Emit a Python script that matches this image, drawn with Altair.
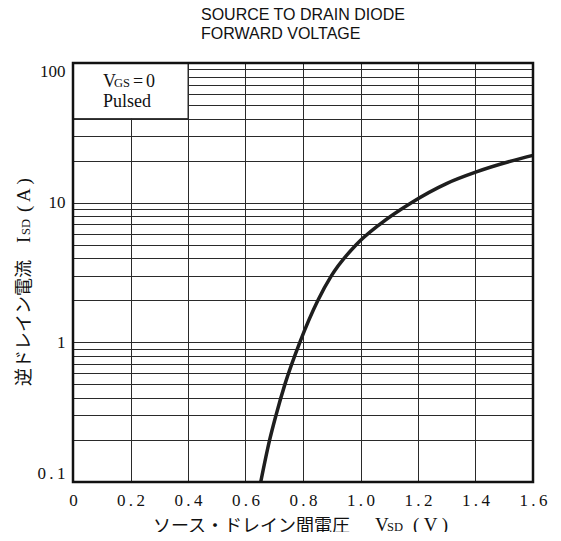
import altair as alt
import pandas as pd

# ---- data ----
vsd = [0.653, 0.684, 0.706, 0.737, 0.789, 0.852, 0.899, 0.985, 1.067, 1.177, 1.299, 1.403, 1.53, 1.6]
isd = [0.1, 0.2, 0.3, 0.5, 1, 2, 3, 5, 7, 10, 13.7, 16.6, 20, 21.8]
x_ticks = [0, 0.2, 0.4, 0.6, 0.8, 1.0, 1.2, 1.4, 1.6]
y_decades = [0.1, 1, 10, 100]
y_grid = [0.1, 0.2, 0.3, 0.4, 0.5, 0.6, 0.7, 0.8, 0.9,
          1, 2, 3, 4, 5, 6, 7, 8, 9,
          10, 20, 30, 40, 50, 60, 70, 80, 90, 100]
title_lines = ["SOURCE TO DRAIN DIODE", "FORWARD VOLTAGE"]
legend_x = [0.0, 0.4]
legend_y = [40, 100]

W, H = 460, 419
SERIF = "Liberation Serif"
CJK = "Noto Sans CJK JP"
SANS = "Liberation Sans"
TS = "\u2009"

xs = alt.Scale(domain=[0, 1.6], nice=False, zero=False)
ys = alt.Scale(type="log", domain=[0.1, 100], nice=False)

x_axis = alt.Axis(values=x_ticks, title=None, labelFlush=False, labelPadding=10,
                  labelExpr=f"datum.value == 0 ? '0' : replace(format(datum.value, '.1f'), '.', '{TS}.{TS}')")
y_axis = alt.Axis(values=y_grid, title=None, labelFlush=True, labelPadding=8,
                  labelExpr=("datum.value == 100 ? '100' : datum.value == 10 ? '10' : "
                             f"datum.value == 1 ? '1' : datum.value == 0.1 ? '0{TS}.{TS}1' : ''"))

box_df = pd.DataFrame({"x": [legend_x[0]], "x2": [legend_x[1]], "y": [legend_y[0]], "y2": [legend_y[1]]})
box = alt.Chart(box_df).mark_rect(fill="white", stroke="#2a2a2a", strokeWidth=1).encode(
    x=alt.X("x:Q", scale=xs, axis=x_axis), x2="x2",
    y=alt.Y("y:Q", scale=ys, axis=y_axis), y2="y2")

curve_df = pd.DataFrame({"x": vsd, "y": isd})
curve = alt.Chart(curve_df).mark_line(color="#1e1e1e", strokeWidth=3.5, interpolate="monotone").encode(
    x=alt.X("x:Q", scale=xs, axis=x_axis),
    y=alt.Y("y:Q", scale=ys, axis=y_axis))


def txt(s, x, y, size, font, angle=0, align="left"):
    kw = dict(text=s, font=font, fontSize=size, align=align, baseline="alphabetic", color="#111")
    if angle:
        kw["angle"] = angle
    return alt.Chart(pd.DataFrame({"t": [s]})).mark_text(**kw).encode(
        x=alt.value(x), y=alt.value(y))


texts = [
    txt(title_lines[0], 128, -43, 16, SANS),
    txt(title_lines[1], 128, -24, 16, SANS),
    # legend box text
    txt("V", 30, 24, 18, SERIF),
    txt("GS", 41, 24, 12.5, SERIF),
    txt("=", 60, 24, 18, SERIF),
    txt("0", 73, 24, 18, SERIF),
    txt("Pulsed", 30, 43.5, 18, SERIF),
    # x title
    txt("ソース・ドレイン間電圧", 80, 469, 18, CJK),
    txt("V", 302, 468, 19, SERIF),
    txt("SD", 314, 468, 12.5, SERIF),
    txt("( V )", 340, 468, 19, SERIF),
    # y title (rotated)
    txt("逆ドレイン電流", -43, 323, 18, CJK, angle=270),
    txt("I", -43, 180, 19, SERIF, angle=270),
    txt("SD", -43, 172, 12.5, SERIF, angle=270),
    txt("( A )", -43, 149, 19, SERIF, angle=270),
]

frame = alt.Chart(pd.DataFrame({"a": [0]})).mark_rect(
    fillOpacity=0, stroke="#111", strokeWidth=2.5).encode(
    x=alt.value(0), x2=alt.value(W), y=alt.value(0), y2=alt.value(H))

chart = alt.layer(box, curve, *texts, frame).properties(
    width=W, height=H,
    autosize=alt.AutoSizeParams(type="none"),
    padding={"left": 65, "top": 55, "right": 20, "bottom": 50},
    background="white",
).configure_view(strokeWidth=0).configure_axis(
    domain=False, ticks=False, grid=True, gridColor="#2a2a2a", gridWidth=1, gridOpacity=1,
    labelFont=SERIF, labelFontSize=17, labelColor="#111",
)

chart.save("out.html", embed_options={"renderer": "svg", "actions": False})
